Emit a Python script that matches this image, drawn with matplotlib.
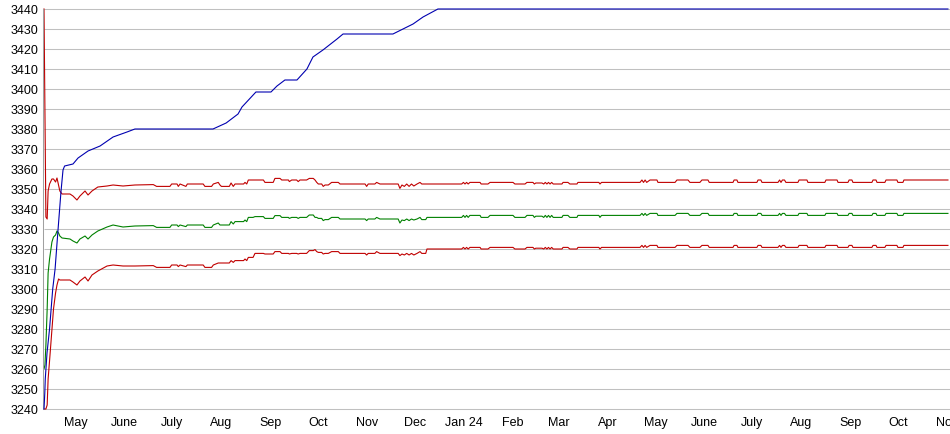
#!/usr/bin/env python3
"""Rating history chart: best, mean +/- band over time."""

import matplotlib

matplotlib.use("Agg")
import matplotlib.dates as mdates
import matplotlib.pyplot as plt
import numpy as np

START = np.datetime64("2023-04-11")
Y_MIN, Y_MAX = 3240, 3440

# days since START and value of the rising (best) line
BLUE_DAYS = [0.0, 0.5, 0.8, 1.9, 3.5, 4.5, 5.5, 7.0, 8.8, 10.7,
             12.0, 13.0, 18.3, 21.5, 27.8, 35.4, 43.6, 52.4, 57.4, 106.7,
             115.0, 122.5, 125.0, 133.8, 143.3, 147.1, 152.1, 159.7, 166.0, 169.8,
             176.1, 185.0, 188.8, 220.3, 233.0, 239.3, 248.7, 570.7]
BLUE_VALUES = [3240, 3248, 3255, 3268, 3280, 3290, 3300, 3310, 3329, 3348.5,
               3359.5, 3361.5, 3362.5, 3365.5, 3369, 3371.5, 3376, 3378.5, 3380, 3380,
               3383, 3387.5, 3391, 3398.5, 3398.5, 3401.5, 3404.5, 3404.5, 3410, 3416,
               3419.5, 3425, 3427.5, 3427.5, 3432.5, 3436, 3440, 3440]

# days since START for the band (upper / middle / lower)
BAND_DAYS = [
    0.0, 0.6, 1.2, 2.0, 2.6, 3.5, 5.0, 6.0, 7.3, 8.2,
    9.2, 10.0, 11.4, 16.4, 18.3, 20.8, 22.7, 25.9, 27.8, 30.3,
    34.0, 39.8, 43.6, 49.9, 57.4,
    66.9, 69.0, 71.1, 79.5, 80.6, 84.0, 84.8, 85.9, 89.6, 90.5,
    100.5, 101.6, 105.8, 106.9, 110.0, 111.1, 112.0, 117.0, 118.1, 119.5,
    120.6, 126.0, 126.9, 128.0, 129.0, 132.0, 133.2, 138.5, 139.5, 144.7,
    145.8, 149.0, 150.1, 154.3, 154.9, 156.4, 159.5, 160.5, 161.6, 165.8,
    167.5, 170.0, 171.1, 172.2, 173.2, 175.3, 176.3, 177.4, 179.5, 181.6,
    185.8, 186.9, 202.7, 203.7, 204.7, 208.9, 210.0, 212.1, 223.6, 224.7,
    226.0, 227.5, 229.0, 230.5, 232.0, 233.5, 235.5, 237.4, 238.5, 241.0,
    241.8,
    263.7, 264.8, 265.8, 266.8, 267.8, 268.9, 275.3, 276.0, 280.3, 281.6,
    296.1, 297.3, 303.7, 304.9, 308.7, 309.6, 310.5, 314.4, 315.5, 316.5,
    317.5, 318.5, 319.5, 320.5, 321.5, 327.0, 327.7, 330.8, 332.0, 336.5,
    337.1, 350.3, 351.0, 352.0, 376.3, 377.5, 378.5, 379.5, 380.5, 382.6,
    387.0, 387.6, 398.4, 399.6, 406.6, 407.8, 414.1, 415.4, 419.2, 420.0,
    435.0, 435.7, 437.5, 438.1, 450.1, 450.8, 452.6, 453.3, 463.4, 464.4,
    465.3, 466.2, 467.5, 468.4, 476.0, 476.7, 481.7, 482.3, 493.0, 493.7,
    500.7, 501.3, 507.6, 508.3, 510.1, 510.7, 522.7, 523.4, 525.3, 525.9,
    530.9, 531.6, 538.5, 539.1, 542.3, 542.9, 570.7,
]

UPPER = [
    3440, 3390, 3336, 3335, 3349, 3352.5, 3355, 3355, 3353.5, 3355.5,
    3352, 3349, 3347.5, 3347.5, 3346.5, 3344.5, 3346.5, 3349, 3347, 3349,
    3351, 3351.5, 3352, 3351.5, 3352,
    3352.2, 3352.2, 3351.3, 3351.3, 3352.5, 3352.5, 3351.3, 3352.5, 3351.3, 3352.5,
    3352.5, 3351.3, 3351.3, 3352.5, 3353.3, 3352.0, 3351.3, 3351.3, 3353.0, 3351.3,
    3352.5, 3352.5, 3353.3, 3352.5, 3354.5, 3354.5, 3354.5, 3354.5, 3353.3, 3353.3,
    3355.3, 3355.3, 3354.5, 3354.5, 3353.7, 3354.5, 3354.5, 3353.7, 3354.5, 3354.5,
    3355.3, 3355.3, 3354.5, 3353.3, 3352.5, 3352.5, 3351.3, 3352.0, 3352.0, 3353.3,
    3353.3, 3352.5, 3352.5, 3351.3, 3352.5, 3352.5, 3353.3, 3352.5, 3352.5, 3350.3,
    3352.0, 3351.3, 3352.5, 3351.3, 3352.5, 3351.5, 3352.5, 3353.3, 3352.5, 3352.5,
    3352.5,
    3352.5, 3353.3, 3352.5, 3353.3, 3352.5, 3353.3, 3353.3, 3352.5, 3352.5, 3353.3,
    3353.3, 3352.5, 3352.5, 3353.3, 3353.3, 3352.5, 3353.0, 3353.0, 3352.5, 3353.3,
    3352.5, 3353.3, 3352.5, 3353.3, 3352.5, 3352.5, 3353.3, 3353.3, 3352.5, 3352.5,
    3353.3, 3353.3, 3352.5, 3353.3, 3353.3, 3354.5, 3353.3, 3354.5, 3353.3, 3354.5,
    3354.5, 3353.3, 3353.3, 3354.5, 3354.5, 3353.3, 3353.3, 3354.5, 3354.5, 3353.3,
    3353.3, 3354.5, 3354.5, 3353.3, 3353.3, 3354.5, 3354.5, 3353.3, 3353.3, 3354.5,
    3353.3, 3354.5, 3354.5, 3353.3, 3353.3, 3354.5, 3354.5, 3353.3, 3353.3, 3354.5,
    3354.5, 3353.3, 3353.3, 3354.5, 3354.5, 3353.3, 3353.3, 3354.5, 3354.5, 3353.3,
    3353.3, 3354.5, 3354.5, 3353.3, 3353.3, 3354.5, 3354.5,
]

MIDDLE = [
    3260, 3262, 3272, 3290, 3308, 3315, 3323.5, 3326, 3327, 3329,
    3328, 3326.5, 3325.5, 3325, 3324, 3323, 3325, 3326.5, 3325, 3327,
    3329, 3331, 3332, 3331, 3331.5,
    3331.7, 3331.7, 3330.8, 3330.8, 3332.0, 3332.0, 3331.2, 3332.0, 3331.2, 3332.0,
    3332.0, 3330.8, 3330.8, 3332.0, 3333.0, 3332.0, 3332.0, 3332.0, 3333.7, 3332.5,
    3333.7, 3333.7, 3334.5, 3333.7, 3335.8, 3335.8, 3336.2, 3336.2, 3335.3, 3335.3,
    3336.7, 3336.7, 3335.8, 3335.8, 3335.3, 3335.8, 3335.8, 3335.3, 3335.8, 3335.8,
    3337.0, 3337.0, 3335.8, 3335.8, 3335.3, 3335.3, 3334.2, 3334.7, 3334.7, 3335.8,
    3335.8, 3335.0, 3335.0, 3334.2, 3335.0, 3335.0, 3335.8, 3335.0, 3335.0, 3333.0,
    3334.5, 3334.2, 3335.0, 3334.2, 3335.0, 3334.5, 3335.0, 3335.8, 3334.7, 3334.7,
    3335.8,
    3335.8, 3336.8, 3335.8, 3336.8, 3335.8, 3336.8, 3336.8, 3335.8, 3335.8, 3336.8,
    3336.8, 3335.8, 3335.8, 3336.8, 3336.8, 3335.8, 3336.4, 3336.4, 3335.8, 3336.8,
    3335.8, 3336.8, 3335.8, 3336.8, 3335.8, 3335.8, 3336.8, 3336.8, 3335.8, 3335.8,
    3336.8, 3336.8, 3335.8, 3336.8, 3336.8, 3337.8, 3336.8, 3337.8, 3336.8, 3337.8,
    3337.8, 3336.8, 3336.8, 3337.8, 3337.8, 3336.8, 3336.8, 3337.8, 3337.8, 3336.8,
    3336.8, 3337.8, 3337.8, 3336.8, 3336.8, 3337.8, 3337.8, 3336.8, 3336.8, 3337.8,
    3336.8, 3337.8, 3337.8, 3336.8, 3336.8, 3337.8, 3337.8, 3336.8, 3336.8, 3337.8,
    3337.8, 3336.8, 3336.8, 3337.8, 3337.8, 3336.8, 3336.8, 3337.8, 3337.8, 3336.8,
    3336.8, 3337.8, 3337.8, 3336.8, 3336.8, 3337.8, 3337.8,
]

LOWER = [
    3240, 3240, 3240, 3242, 3255, 3264, 3280, 3290, 3298, 3302,
    3305, 3304.5, 3304.5, 3304.5, 3303.5, 3302, 3304, 3306, 3304, 3307,
    3309, 3311.5, 3312, 3311.5, 3311.5,
    3311.7, 3311.7, 3310.8, 3310.8, 3312.0, 3312.0, 3311.2, 3312.0, 3311.2, 3312.0,
    3312.0, 3310.8, 3310.8, 3312.0, 3313.0, 3313.0, 3313.0, 3313.0, 3314.2, 3313.3,
    3314.2, 3314.2, 3315.0, 3314.2, 3315.8, 3315.8, 3317.8, 3317.8, 3317.5, 3317.5,
    3318.7, 3318.7, 3317.8, 3317.8, 3317.5, 3317.8, 3317.8, 3317.5, 3317.8, 3317.8,
    3319.2, 3319.2, 3319.7, 3318.7, 3318.3, 3318.3, 3317.5, 3317.8, 3317.8, 3318.7,
    3318.7, 3317.8, 3317.8, 3317.0, 3317.8, 3317.8, 3318.7, 3317.8, 3317.8, 3316.7,
    3317.5, 3317.0, 3317.8, 3317.0, 3317.8, 3317.0, 3317.8, 3318.7, 3317.8, 3317.8,
    3320.0,
    3320.0, 3320.8, 3320.0, 3320.8, 3320.0, 3320.8, 3320.8, 3320.0, 3320.0, 3320.8,
    3320.8, 3320.0, 3320.0, 3320.8, 3320.8, 3320.0, 3320.4, 3320.4, 3320.0, 3320.8,
    3320.0, 3320.8, 3320.0, 3320.8, 3320.0, 3320.0, 3320.8, 3320.8, 3320.0, 3320.0,
    3320.8, 3320.8, 3320.0, 3320.8, 3320.8, 3321.8, 3320.8, 3321.8, 3320.8, 3321.8,
    3321.8, 3320.8, 3320.8, 3321.8, 3321.8, 3320.8, 3320.8, 3321.8, 3321.8, 3320.8,
    3320.8, 3321.8, 3321.8, 3320.8, 3320.8, 3321.8, 3321.8, 3320.8, 3320.8, 3321.8,
    3320.8, 3321.8, 3321.8, 3320.8, 3320.8, 3321.8, 3321.8, 3320.8, 3320.8, 3321.8,
    3321.8, 3320.8, 3320.8, 3321.8, 3321.8, 3320.8, 3320.8, 3321.8, 3321.8, 3320.8,
    3320.8, 3321.8, 3321.8, 3320.8, 3320.8, 3321.8, 3321.8,
]

MONTH_TICKS = ["2023-05-01", "2023-06-01", "2023-07-01", "2023-08-01", "2023-09-01",
               "2023-10-01", "2023-11-01", "2023-12-01", "2024-01-01", "2024-02-01",
               "2024-03-01", "2024-04-01", "2024-05-01", "2024-06-01", "2024-07-01",
               "2024-08-01", "2024-09-01", "2024-10-01", "2024-11-01"]
MONTH_LABELS = ["May", "June", "July", "Aug", "Sep", "Oct", "Nov", "Dec", "Jan 24", "Feb",
                "Mar", "Apr", "May", "June", "July", "Aug", "Sep", "Oct", "Nov"]

assert len(BLUE_DAYS) == len(BLUE_VALUES)
assert len(BAND_DAYS) == len(UPPER) == len(MIDDLE) == len(LOWER), (
    len(BAND_DAYS), len(UPPER), len(MIDDLE), len(LOWER))


def to_num(days):
    return mdates.date2num(START) + np.asarray(days, dtype=float)


def main() -> None:
    plt.rcParams["font.family"] = ["Liberation Sans", "DejaVu Sans"]
    fig = plt.figure(figsize=(9.5, 4.35), dpi=100)
    ax = fig.add_axes([44 / 950, 25 / 435, 906 / 950, 400 / 435])

    ax.set_xlim(to_num(0)[()], to_num(572)[()])
    ax.set_ylim(Y_MIN, Y_MAX)

    yticks = list(range(Y_MIN, Y_MAX + 1, 10))
    ax.hlines(yticks, 0, 1, transform=ax.get_yaxis_transform(), colors="#c0c0c0",
              linewidth=0.75, zorder=0, clip_on=False)

    style = dict(linewidth=0.8, clip_on=False)
    band_x = to_num(BAND_DAYS)
    ax.plot(band_x, UPPER, color="#c00000", zorder=2, **style)
    ax.plot(band_x, MIDDLE, color="#008000", zorder=2, **style)
    ax.plot(band_x, LOWER, color="#c00000", zorder=2, **style)
    ax.plot(to_num(BLUE_DAYS), BLUE_VALUES, color="#0000b0", zorder=3, **style)

    ax.set_yticks(yticks)
    ax.set_yticklabels([str(v) for v in yticks])
    ax.set_xticks(mdates.date2num(np.array(MONTH_TICKS, dtype="datetime64[D]")))
    ax.set_xticklabels(MONTH_LABELS)
    ax.tick_params(axis="both", length=0, labelsize=9, colors="#000000")
    ax.tick_params(axis="y", pad=3)
    ax.tick_params(axis="x", pad=5)

    for side in ("top", "right", "bottom"):
        ax.spines[side].set_visible(False)
    ax.spines["left"].set_color("#a0a0a0")
    ax.spines["left"].set_linewidth(0.75)
    ax.spines["left"].set_position(("outward", 1))

    fig.savefig("out.png", dpi=100)
    plt.close(fig)


if __name__ == "__main__":
    main()
